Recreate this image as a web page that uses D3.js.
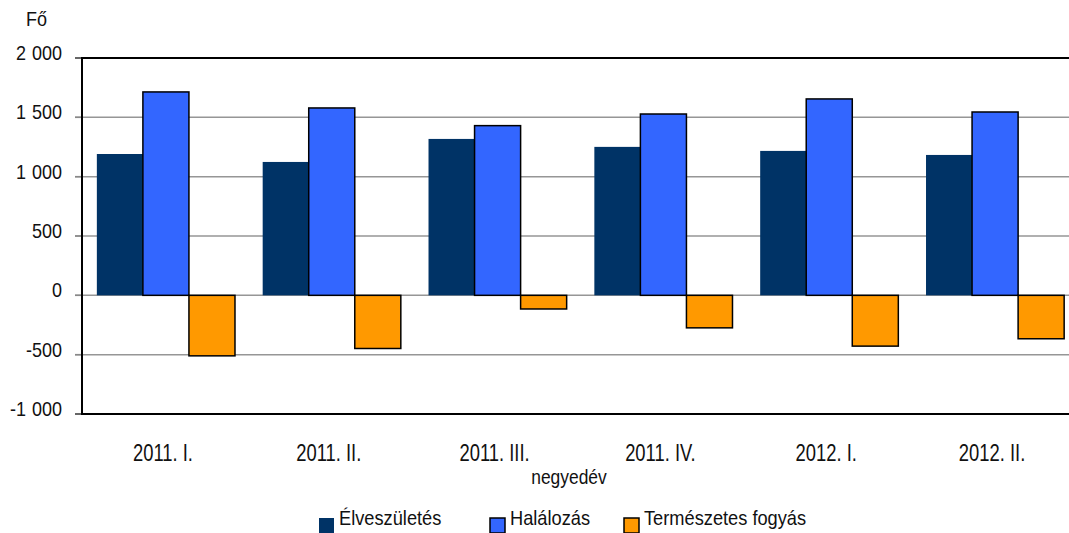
<!DOCTYPE html>
<html>
<head>
<meta charset="utf-8">
<script src="https://cdn.jsdelivr.net/npm/d3@7"></script>
<style>
  html, body { margin: 0; padding: 0; background: #fff; }
  svg { display: block; }
  text { font-family: "Liberation Sans", Arial, sans-serif; fill: #111; }
</style>
</head>
<body>
<svg id="chart" width="1069" height="533"></svg>
<script>
const categories = ["2011. I.", "2011. II.", "2011. III.", "2011. IV.", "2012. I.", "2012. II."];
const seriesNames = ["Élveszületés", "Halálozás", "Természetes fogyás"];
const births = [1191, 1124, 1318, 1251, 1217, 1183];
const deaths = [1714, 1579, 1430, 1528, 1655, 1545];
const naturalDecrease = [-510, -448, -115, -274, -428, -366];
const tickValues = [-1000, -500, 0, 500, 1000, 1500, 2000];
const tickLabels = ["-1 000", "-500", "0", "500", "1 000", "1 500", "2 000"];
const colors = ["#003366", "#3366FF", "#FF9900"];
const strokes = ["none", "#000", "#000"];

const seriesValues = [births, deaths, naturalDecrease];

(function () {
const svg = d3.select("#chart");
const mLeft = 82, mTop = 58, mBottom = 414;
const plotRight = 1078;

const y = d3.scaleLinear().domain([-1000, 2000]).range([mBottom, mTop]);
const x0 = d3.scaleBand().domain(categories).range([83, plotRight])
  .paddingInner(0.167).paddingOuter(0.0835);
const x1 = d3.scaleBand().domain(seriesNames).range([0, x0.bandwidth()]);

// gridlines
svg.append("g").selectAll("line").data(tickValues).join("line")
  .attr("x1", mLeft - 7).attr("x2", 1069)
  .attr("y1", d => y(d)).attr("y2", d => y(d))
  .attr("stroke", d => (d === 2000 || d === -1000) ? "#000" : "#969696")
  .attr("stroke-width", d => (d === 2000 || d === -1000) ? 2 : 1.5);
// tick marks on left
svg.append("g").selectAll("line").data(tickValues).join("line")
  .attr("x1", mLeft - 7).attr("x2", mLeft)
  .attr("y1", d => y(d)).attr("y2", d => y(d))
  .attr("stroke", "#888").attr("stroke-width", 1.5);

// bars
const groups = svg.append("g").selectAll("g").data(categories).join("g")
  .attr("transform", d => `translate(${x0(d)},0)`);
groups.selectAll("rect").data((c, i) => seriesNames.map((s, j) => ({s, j, v: seriesValues[j][i]})))
  .join("rect")
  .attr("x", d => x1(d.s))
  .attr("width", x1.bandwidth())
  .attr("y", d => y(Math.max(0, d.v)))
  .attr("height", d => Math.abs(y(d.v) - y(0)))
  .attr("fill", d => colors[d.j])
  .attr("stroke", d => strokes[d.j])
  .attr("stroke-width", 1.5);

// left axis line
svg.append("line").attr("x1", mLeft).attr("x2", mLeft).attr("y1", mTop - 1).attr("y2", mBottom + 1)
  .attr("stroke", "#000").attr("stroke-width", 2);

function sText(sel, x, yy, sx, size, anchor) {
  return sel.attr("transform", (d, i) => `translate(${typeof x === "function" ? x(d, i) : x},${typeof yy === "function" ? yy(d, i) : yy}) scale(${sx},1)`)
    .attr("text-anchor", anchor || "start")
    .style("font-size", size + "px");
}

// y tick labels
sText(svg.append("g").selectAll("text").data(tickValues).join("text"),
  62, d => y(d) + 2, 0.9, 20, "end")
  .style("word-spacing", "1px")
  .text((d, i) => tickLabels[i]);

// category labels
sText(svg.append("g").selectAll("text").data(categories).join("text"),
  d => x0(d) + x0.bandwidth() / 2 - 3, 461, 0.8, 23, "middle")
  .text(d => d);

sText(svg.append("text"), 569, 484, 0.85, 20.5, "middle").text("negyedév");

sText(svg.append("text"), 26, 26, 0.9, 20, "start").text("Fő");

// legend
const legendX = [319, 490, 624];
const lg = svg.append("g").selectAll("g").data(seriesNames).join("g")
  .attr("transform", (d, i) => `translate(${legendX[i]},0)`);
lg.append("rect").attr("x", 0).attr("y", 518).attr("width", 15).attr("height", 15)
  .attr("fill", (d, i) => colors[i]).attr("stroke", (d, i) => strokes[i]).attr("stroke-width", 1.5);
sText(lg.append("text"), 20, 525, 0.89, 20.5, "start").text(d => d);
})();
</script>
</body>
</html>
